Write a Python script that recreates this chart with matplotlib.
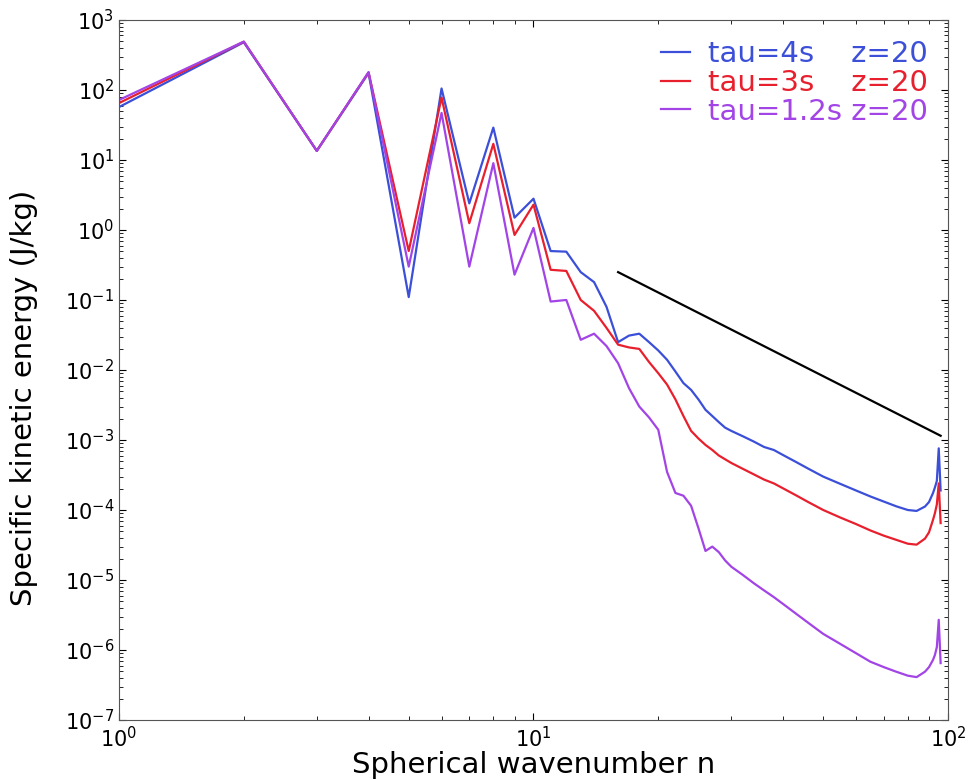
import matplotlib.pyplot as plt
from matplotlib.ticker import LogLocator

n = list(range(1, 31)) + [32, 34, 36, 38, 40, 43, 46, 50, 55, 60, 65, 70, 75, 80,
                          84, 88, 90, 92, 93, 94, 95, 96]

e_tau4 = [57, 480, 13.5, 175, 0.11, 105, 2.4, 29, 1.5, 2.8,
          0.5, 0.49, 0.25, 0.18, 0.08, 0.025, 0.031, 0.033, 0.025, 0.019,
          0.014, 0.0095, 0.0065, 0.0052, 0.0038, 0.0027, 0.0022, 0.0018, 0.0015, 0.00135,
          1.13e-3, 9.5e-4, 7.95e-4, 7.2e-4, 6.1e-4, 4.85e-4, 3.9e-4, 3.0e-4, 2.36e-4, 1.9e-4,
          1.56e-4, 1.32e-4, 1.13e-4, 1.0e-4, 0.97e-4, 1.12e-4, 1.3e-4, 1.74e-4, 2.1e-4, 2.6e-4,
          7.6e-4, 1.9e-4]

e_tau3 = [65, 490, 13.5, 178, 0.5, 78, 1.25, 17, 0.85, 2.3,
          0.27, 0.26, 0.1, 0.07, 0.04, 0.023, 0.021, 0.02, 0.013, 0.009,
          0.0062, 0.0038, 0.0022, 0.00135, 0.00105, 0.00085, 0.00072, 0.0006, 0.00053, 0.00047,
          3.87e-4, 3.23e-4, 2.72e-4, 2.4e-4, 2.04e-4, 1.62e-4, 1.3e-4, 1.0e-4, 7.8e-5, 6.3e-5,
          5.1e-5, 4.3e-5, 3.75e-5, 3.3e-5, 3.2e-5, 3.9e-5, 4.8e-5, 7.2e-5, 9e-5, 1.2e-4,
          2.4e-4, 6.5e-5]

e_tau12 = [72, 490, 13.5, 180, 0.3, 47, 0.3, 9, 0.23, 1.07,
           0.095, 0.1, 0.027, 0.033, 0.022, 0.0125, 0.0055, 0.003, 0.0021, 0.0014,
           3.5e-4, 1.75e-4, 1.6e-4, 1.15e-4, 5.5e-5, 2.6e-5, 3.0e-5, 2.5e-5, 1.9e-5, 1.55e-5,
           1.18e-5, 9.0e-6, 7.1e-6, 5.7e-6, 4.55e-6, 3.3e-6, 2.45e-6, 1.7e-6, 1.22e-6, 9.0e-7,
           6.8e-7, 5.7e-7, 4.9e-7, 4.3e-7, 4.1e-7, 4.9e-7, 5.7e-7, 7.2e-7, 8.5e-7, 1.1e-6,
           2.7e-6, 6.5e-7]

# reference slope line (n^-3)
ref_n = [16, 96]
ref_e = [0.25, 1.15e-3]

labels = ['tau=4s    z=20', 'tau=3s    z=20', 'tau=1.2s z=20']
colors = ['#3b4fd8', '#e8202e', '#a244e6']

fig = plt.figure(figsize=(9.78, 7.8), dpi=100)
ax = fig.add_axes([0.1217, 0.0769, 0.8476, 0.8975])

for e, lab, c in zip([e_tau4, e_tau3, e_tau12], labels, colors):
    ax.plot(n, e, color=c, lw=1.6, label=lab)
ax.plot(ref_n, ref_e, color='black', lw=1.6)

ax.set_xscale('log')
ax.set_yscale('log')
ax.set_xlim(1, 100)
ax.set_ylim(1e-7, 1e3)
ax.yaxis.set_major_locator(LogLocator(base=10, numticks=20))
ax.yaxis.set_minor_locator(LogLocator(base=10, subs=range(2, 10), numticks=20))

ax.tick_params(which='both', direction='in', top=True, right=True, labelsize=15)
ax.tick_params(which='major', length=5)
ax.tick_params(which='minor', length=3)
ax.tick_params(axis='x', pad=4)
for s in ax.spines.values():
    s.set_color('#555555')

ax.set_xlabel('Spherical wavenumber n', fontsize=21)
ax.xaxis.set_label_coords(0.5, -0.044)
ax.set_ylabel('Specific kinetic energy (J/kg)', fontsize=21)
ax.yaxis.set_label_coords(-0.098, 0.46)

leg = ax.legend(loc='upper right', frameon=False, fontsize=21, handlelength=1.0,
                handletextpad=0.6, labelspacing=0.02, borderaxespad=0.3)
for t, c in zip(leg.get_texts(), colors):
    t.set_color(c)

fig.savefig('out.png', dpi=100)
